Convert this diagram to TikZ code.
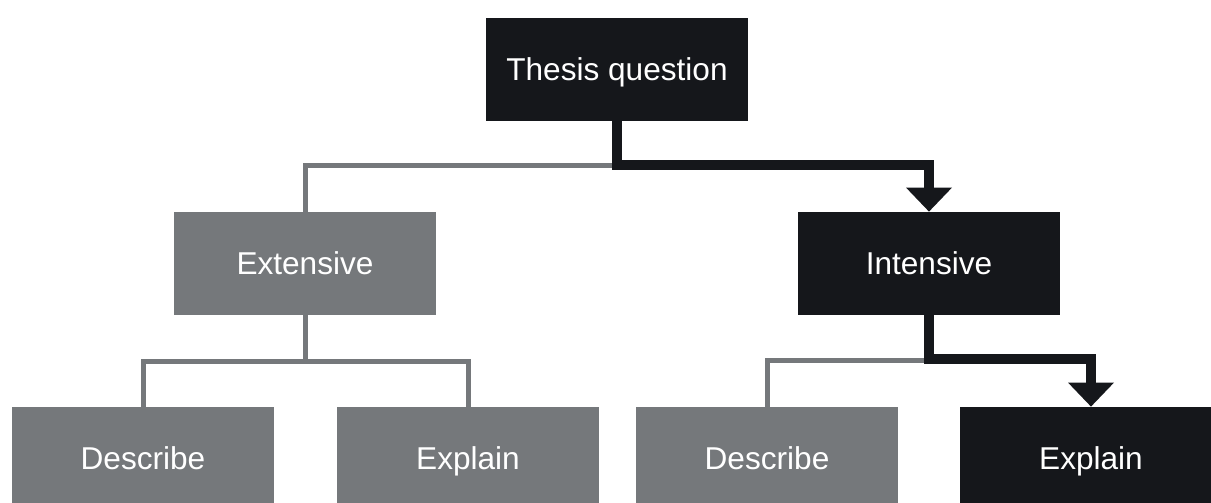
\documentclass[tikz,border=0pt]{standalone}
\usepackage{fontspec}
\setmainfont{Liberation Sans}
\usepackage{tikz}
\usetikzlibrary{arrows.meta,positioning,calc}
\definecolor{darkbox}{RGB}{21,23,27}
\definecolor{greybox}{RGB}{117,120,123}

\begin{document}
\begin{tikzpicture}[
  box/.style={minimum width=131pt, minimum height=51.5pt, inner sep=0pt, text height=11.3pt, text depth=0pt, text=white, font=\fontsize{15.8}{19}\selectfont},
  chosen/.style={box, fill=darkbox},
  other/.style={box, fill=greybox},
  thinlink/.style={draw=greybox, line width=2.5pt},
  path/.style={draw=darkbox, line width=5pt, -{Triangle[width=23pt,length=12pt,line width=0pt]}},
]
  \useasboundingbox (0,0) rectangle (605.5pt,-251.5pt);
  \node[chosen] (thesis) at (308.5pt,-34.75pt) {Thesis question};
  \node[other]  (ext)    at (152.5pt,-131.75pt) {Extensive};
  \node[chosen] (int)    at (464.5pt,-131.75pt) {Intensive};
  \node[other]  (extdesc) at (71.5pt,-229.25pt) {Describe};
  \node[other]  (extexpl) at (234pt,-229.25pt) {Explain};
  \node[other]  (intdesc) at (383.5pt,-229.25pt) {Describe};
  \node[chosen] (intexpl) at (545.5pt,-229.25pt) {Explain};
  % grey branches
  \draw[thinlink] (thesis.south) -- ++(0,-22pt) -| (ext.north);
  \draw[thinlink] (ext.south) -- ++(0,-23pt) -| (extdesc.north);
  \draw[thinlink] (ext.south) -- ++(0,-23pt) -| (extexpl.north);
  \draw[thinlink] (int.south) -- ++(0,-22.5pt) -| (intdesc.north);
  % chosen path
  \draw[path] (thesis.south) -- ++(0,-22pt) -| (int.north);
  \draw[path] (int.south) -- ++(0,-22pt) -| (intexpl.north);
\end{tikzpicture}
\end{document}
